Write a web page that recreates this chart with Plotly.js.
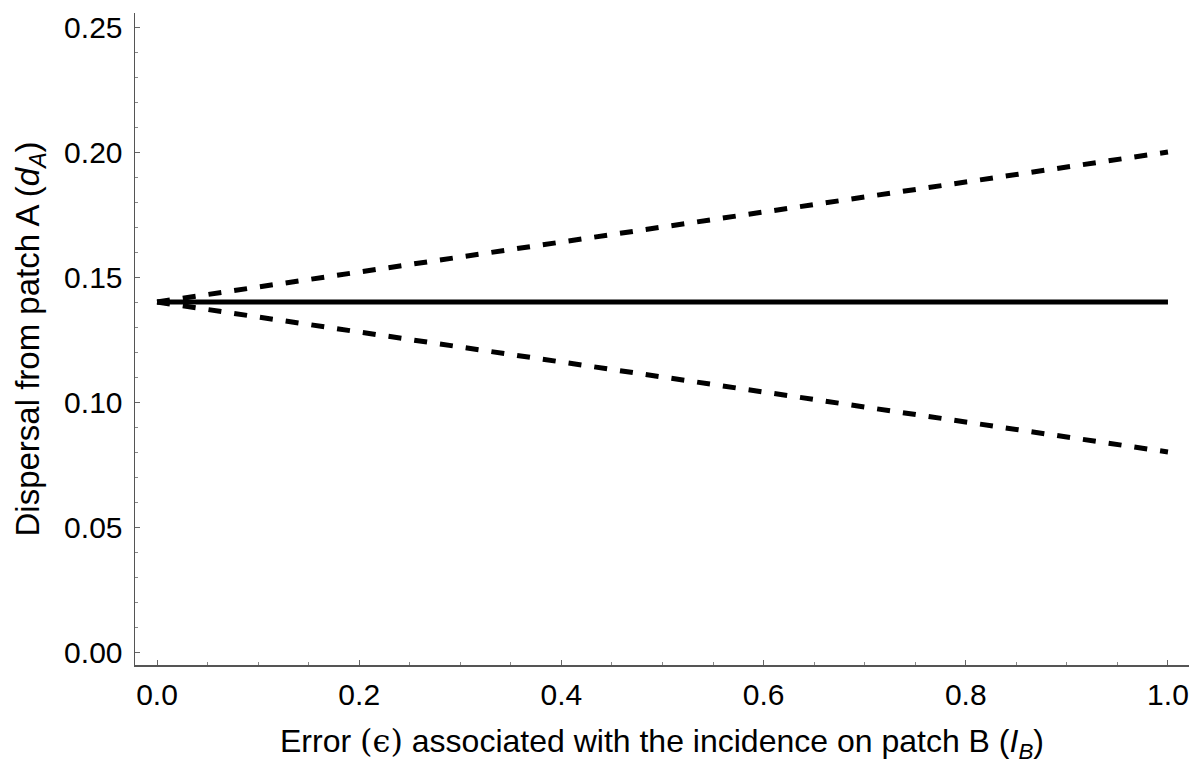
<!DOCTYPE html>
<html>
<head>
<meta charset="utf-8">
<script src="https://cdn.plot.ly/plotly-3.0.1.min.js"></script>
<style>html,body{margin:0;padding:0;background:#fff;}#chart{width:1203px;height:769px;}</style>
</head>
<body>
<div id="chart"></div>
<script>
// Data
const epsilon = [0, 1];
const dispersalTrue = [0.14, 0.14];
const dispersalUpper = [0.14, 0.20];
const dispersalLower = [0.14, 0.08];
const xTickVals = [0, 0.2, 0.4, 0.6, 0.8, 1.0];
const xTickText = ["0.0", "0.2", "0.4", "0.6", "0.8", "1.0"];
const yTickVals = [0, 0.05, 0.10, 0.15, 0.20, 0.25];
const yTickText = ["0.00", "0.05", "0.10", "0.15", "0.20", "0.25"];

const FONT = "Liberation Sans, Arial, sans-serif";
const traces = [
  {x: epsilon, y: dispersalUpper, mode: "lines", line: {color: "#000", width: 5, dash: "13px,13px"}, hoverinfo: "skip"},
  {x: epsilon, y: dispersalLower, mode: "lines", line: {color: "#000", width: 5, dash: "13px,13px"}, hoverinfo: "skip"},
  {x: epsilon, y: dispersalTrue, mode: "lines", line: {color: "#000", width: 5}, hoverinfo: "skip"}
];
const layout = {
  width: 1203, height: 769,
  margin: {l: 135, r: 14, t: 13, b: 104},
  paper_bgcolor: "#fff", plot_bgcolor: "#fff",
  showlegend: false,
  font: {family: FONT, size: 30, color: "#000"},
  xaxis: {
    range: [-0.0218, 1.0208],
    tickvals: xTickVals, ticktext: xTickText,
    ticks: "inside", ticklen: 5, tickwidth: 1, tickcolor: "#666",
    minor: {dtick: 0.05, tick0: 0, ticks: "inside", ticklen: 3, tickcolor: "#888"},
    showline: true, linecolor: "#555", linewidth: 1.5,
    showgrid: false, zeroline: false,
    tickfont: {family: FONT, size: 30, color: "#000"},
    ticklabelstandoff: 2,
    title: {text: "Error <span style=\"font-family:'DejaVu Serif'\">(ϵ)</span> associated with the incidence on patch B (<i>I</i><sub><i>B</i></sub>)", font: {family: FONT, size: 32, color: "#000"}, standoff: 20}
  },
  yaxis: {
    range: [-0.0052, 0.2556],
    tickvals: yTickVals, ticktext: yTickText,
    ticks: "inside", ticklen: 5, tickwidth: 1, tickcolor: "#666",
    minor: {dtick: 0.01, tick0: 0, ticks: "inside", ticklen: 3, tickcolor: "#888"},
    showline: true, linecolor: "#555", linewidth: 1.5,
    showgrid: false, zeroline: false,
    tickfont: {family: FONT, size: 30, color: "#000"},
    ticklabelstandoff: 5,
    title: {text: "Dispersal from patch A (<i>d</i><sub><i>A</i></sub>)", font: {family: FONT, size: 33, color: "#000"}, standoff: 14}
  }
};
Plotly.newPlot("chart", traces, layout, {staticPlot: true, displayModeBar: false});
</script>
</body>
</html>
